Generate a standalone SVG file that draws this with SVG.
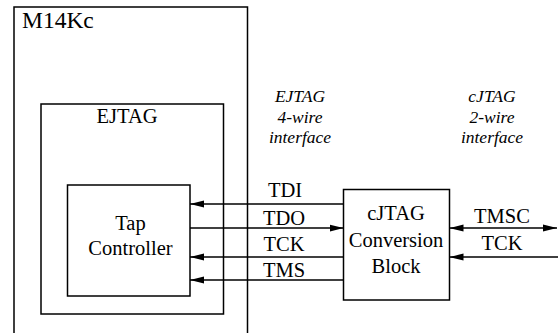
<svg xmlns="http://www.w3.org/2000/svg" width="558" height="333" viewBox="0 0 558 333">
<style>
.box{fill:none;stroke:#000;stroke-width:1.5}
.ln{fill:none;stroke:#000;stroke-width:1.5}
text{fill:#000}
.lbl{font-size:20.5px;text-anchor:middle}
.it{font-size:17.5px;font-style:italic;text-anchor:middle}
</style>
<defs>
<marker id="ah" viewBox="0 0 14 8" refX="14" refY="4" markerWidth="14" markerHeight="8" markerUnits="userSpaceOnUse" orient="auto-start-reverse">
<path d="M0,0.5 L14,4 L0,7.5 Z" fill="#000"/>
</marker>
</defs>
<g font-family="'Liberation Serif', FreeSerif, 'Times New Roman', serif">
<g id="m14kc">
<path class="box" d="M14,333 V7 H247.5 V333"/>
<text x="22" y="28" font-size="23.5">M14Kc</text>
</g>
<g id="ejtag">
<rect class="box" x="41" y="104" width="182.5" height="210"/>
<text class="lbl" x="127" y="123">EJTAG</text>
</g>
<g id="tap">
<rect class="box" x="67.5" y="185" width="122.5" height="111"/>
<text class="lbl" x="130.5" y="230">Tap</text>
<text class="lbl" x="130.5" y="255">Controller</text>
</g>
<g id="cjtag">
<rect class="box" x="343.5" y="189.5" width="106" height="110.5"/>
<text class="lbl" x="396" y="220">cJTAG</text>
<text class="lbl" x="396" y="246.5">Conversion</text>
<text class="lbl" x="396" y="273">Block</text>
</g>
<g id="ejtag-iface">
<text class="it" x="300" y="102">EJTAG</text>
<text class="it" x="300" y="123">4-wire</text>
<text class="it" x="300" y="143">interface</text>
</g>
<g id="cjtag-iface">
<text class="it" x="492" y="102">cJTAG</text>
<text class="it" x="492" y="123">2-wire</text>
<text class="it" x="492" y="143">interface</text>
</g>
<g id="connectors">
<line class="ln" x1="343.5" y1="204" x2="190" y2="204" marker-end="url(#ah)"/>
<line class="ln" x1="190" y1="228" x2="343.5" y2="228" marker-end="url(#ah)"/>
<line class="ln" x1="343.5" y1="257" x2="190" y2="257" marker-end="url(#ah)"/>
<line class="ln" x1="343.5" y1="280" x2="190" y2="280" marker-end="url(#ah)"/>
<line class="ln" x1="449.5" y1="228" x2="557" y2="228" marker-start="url(#ah)" marker-end="url(#ah)"/>
<line class="ln" x1="558" y1="257" x2="449.5" y2="257" marker-end="url(#ah)"/>
<text class="lbl" x="285" y="197">TDI</text>
<text class="lbl" x="284" y="225">TDO</text>
<text class="lbl" x="284" y="251">TCK</text>
<text class="lbl" x="284" y="277">TMS</text>
<text class="lbl" x="502" y="223">TMSC</text>
<text class="lbl" x="502" y="250">TCK</text>
</g>
</g>
</svg>
